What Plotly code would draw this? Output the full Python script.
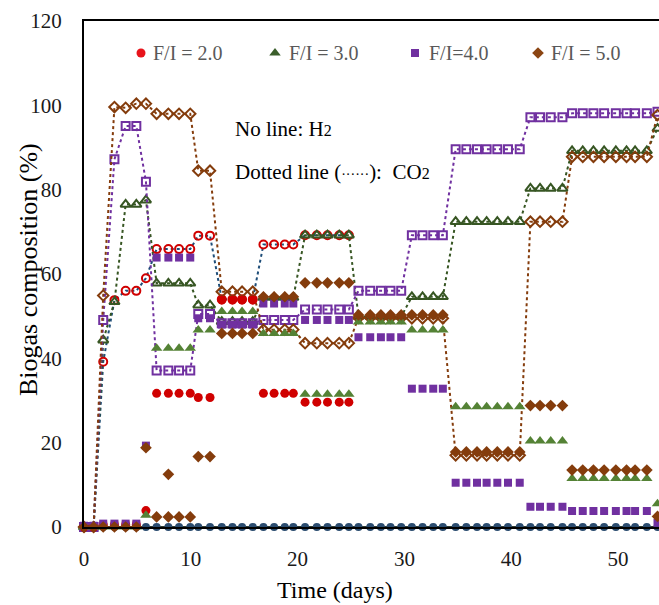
import plotly.graph_objects as go

N = None
# sampling days (x values)
DAYS = [0, 0.9, 1.8, 2.85, 3.9, 4.9, 5.8,
        6.8, 7.9, 8.9, 9.95,
        10.7, 11.8,
        12.9, 13.9, 14.8, 15.8,
        16.8, 17.8, 18.8, 19.6,
        20.7, 21.8, 22.8, 23.9, 24.8,
        25.7, 26.8, 27.8, 28.7, 29.7,
        30.7, 31.7, 32.7, 33.6,
        34.8, 35.8, 36.8, 37.7, 38.7, 39.7, 40.8,
        41.8, 42.7, 43.7, 44.8,
        45.7, 46.7, 47.7, 48.7, 49.8, 50.8, 51.6, 52.7,
        53.7]

FI2_CO2 = [0, 0, 39.2, 53.8, 56.0, 56.0, 59.0,
           65.9, 65.9, 65.9, 65.9,
           69.1, 69.1,
           54.0, 54.0, 54.0, 54.0,
           67.0, 67.0, 67.0, 67.0,
           69.2, 69.2, 69.2, 69.2, 69.2,
           N, N, N, N, N,
           N, N, N, N,
           N, N, N, N, N, N, N,
           N, N, N, N,
           N, N, N, N, N, N, N, N,
           N]
FI2_H2 = [0, 0, 0.6, 0.6, 0.6, 0.6, 3.9,
          31.7, 31.7, 31.7, 31.7,
          30.7, 30.7,
          53.8, 53.8, 53.8, 53.8,
          31.7, 31.7, 31.7, 31.7,
          29.6, 29.6, 29.6, 29.6, 29.6,
          N, N, N, N, N,
          N, N, N, N,
          N, N, N, N, N, N, N,
          N, N, N, N,
          N, N, N, N, N, N, N, N,
          N]
FI3_CO2 = [0, 0, 44.3, 53.4, 76.5, 76.5, 77.5,
           57.8, 57.8, 57.8, 57.8,
           52.6, 52.6,
           48.7, 48.7, 48.7, 48.7,
           54.4, 54.4, 54.4, 54.4,
           69.2, 69.2, 69.2, 69.2, 69.2,
           49.9, 49.9, 49.9, 49.9, 49.9,
           54.6, 54.6, 54.6, 54.6,
           72.4, 72.4, 72.4, 72.4, 72.4, 72.4, 72.4,
           80.3, 80.3, 80.3, 80.3,
           89.2, 89.2, 89.2, 89.2, 89.2, 89.2, 89.2, 89.2,
           94.5]
FI3_H2 = [0, 0, 0, 0, 0, 0, 2.8,
          42.4, 42.4, 42.4, 42.4,
          46.7, 46.7,
          51.1, 51.1, 51.1, 51.1,
          45.9, 45.9, 45.9, 45.9,
          31.5, 31.5, 31.5, 31.5, 31.5,
          48.6, 48.6, 48.6, 48.6, 48.6,
          46.7, 46.7, 46.7, 46.7,
          28.5, 28.5, 28.5, 28.5, 28.5, 28.5, 28.5,
          20.4, 20.4, 20.4, 20.4,
          11.5, 11.5, 11.5, 11.5, 11.5, 11.5, 11.5, 11.5,
          5.5]
FI4_CO2 = [0, 0, 49.1, 87.2, 95.1, 95.1, 81.9,
           37.1, 37.1, 37.1, 37.1,
           50.5, 50.5,
           48.3, 48.3, 48.3, 48.3,
           49.1, 49.1, 49.1, 49.1,
           51.6, 51.6, 51.6, 51.6, 51.6,
           56.0, 56.0, 56.0, 56.0, 56.0,
           69.2, 69.2, 69.2, 69.2,
           89.6, 89.6, 89.6, 89.6, 89.6, 89.6, 89.6,
           97.2, 97.2, 97.2, 97.2,
           98.1, 98.1, 98.1, 98.1, 98.1, 98.1, 98.1, 98.1,
           98.5]
FI4_H2 = [0.3, 0.3, 0.8, 0.8, 0.8, 0.8, 19.3,
          63.9, 63.9, 63.9, 63.9,
          49.5, 49.5,
          48.0, 48.0, 48.0, 48.0,
          53.0, 53.0, 53.0, 53.0,
          49.1, 49.1, 49.1, 49.1, 49.1,
          45.0, 45.0, 45.0, 45.0, 45.0,
          32.8, 32.8, 32.8, 32.8,
          10.5, 10.5, 10.5, 10.5, 10.5, 10.5, 10.5,
          4.8, 4.8, 4.8, 4.8,
          3.8, 3.8, 3.8, 3.8, 3.8, 3.8, 3.8, 3.8,
          1.0]
FI5_CO2 = [0, 0, 54.9, 99.6, 99.4, 100.4, 100.4,
           98.0, 98.0, 98.0, 98.0,
           84.5, 84.5,
           55.8, 55.8, 55.8, 55.8,
           46.8, 46.8, 46.8, 46.8,
           43.6, 43.6, 43.6, 43.6, 43.6,
           49.6, 49.6, 49.6, 49.6, 49.6,
           49.5, 49.5, 49.5, 49.5,
           17.0, 17.0, 17.0, 17.0, 17.0, 17.0, 17.0,
           72.4, 72.4, 72.4, 72.4,
           87.8, 87.8, 87.8, 87.8, 87.8, 87.8, 87.8, 87.8,
           97.7]
FI5_H2 = [0, 0, 0, 0, 0, 0, 18.8,
          2.4, 2.4, 2.4, 2.4,
          16.7, 16.7,
          45.9, 45.9, 45.9, 45.9,
          54.6, 54.6, 54.6, 54.6,
          57.9, 57.9, 57.9, 57.9, 57.9,
          50.3, 50.3, 50.3, 50.3, 50.3,
          50.3, 50.3, 50.3, 50.3,
          17.8, 17.8, 17.8, 17.8, 17.8, 17.8, 17.8,
          28.8, 28.8, 28.8, 28.8,
          13.5, 13.5, 13.5, 13.5, 13.5, 13.5, 13.5, 13.5,
          2.5]
FI5_H2_EXTRA_DAY = [7.9]
FI5_H2_EXTRA_VAL = [12.5]
BASE_ZERO = [0, 0, 0, 0, 0, 0, 0, 0, 0, 0, 0, 0, 0, 0, 0, 0, 0, 0, 0, 0,
             0, 0, 0, 0, 0, 0, 0, 0, 0, 0, 0, 0, 0, 0, 0, 0, 0, 0, 0, 0,
             0, 0, 0, 0, 0, 0, 0, 0, 0, 0, 0, 0, 0, 0, 0]

LEGEND_LABELS = ["F/I = 2.0", "F/I = 3.0", "F/I=4.0", "F/I = 5.0"]
Y_TICKS = [0, 20, 40, 60, 80, 100, 120]
X_TICKS = [0, 10, 20, 30, 40, 50]

RED = "#D00000"
GREEN_F = "#548235"
GREEN_O = "#375623"
PURPLE = "#7030A0"
BROWN = "#843C0C"
NAVY = "#1F4E79"
FONT = "Times New Roman, Liberation Serif, DejaVu Serif, serif"

W, H = 659, 605
ML, MR, MT, MB = 84, 0, 21, 78
PW, PH = W - ML - MR, H - MT - MB


def px(x):
    return (x - ML) / PW


def py(y):
    return (H - MB - y) / PH


fig = go.Figure()

# zero baseline series
fig.add_trace(go.Scatter(x=DAYS, y=BASE_ZERO, mode="lines+markers",
                         line=dict(color="#2F3B2F", width=2),
                         marker=dict(symbol="circle", size=8, color="#2B4C6F"),
                         cliponaxis=False, showlegend=False))

co2_specs = [
    (FI2_CO2, "circle-open", 8, RED, NAVY),
    (FI3_CO2, "triangle-up-open", 9, GREEN_O, GREEN_O),
    (FI4_CO2, "square-open", 8, PURPLE, PURPLE),
    (FI5_CO2, "diamond-open", 8, BROWN, BROWN),
]
for vals, sym, size, mcol, lcol in co2_specs:
    fig.add_trace(go.Scatter(x=DAYS, y=vals, mode="lines+markers",
                             line=dict(color=lcol, width=2, dash="dot"),
                             marker=dict(symbol=sym, size=size, color=mcol,
                                         line=dict(width=2, color=mcol)),
                             connectgaps=False, cliponaxis=False,
                             showlegend=False))

h2_specs = [
    (DAYS, FI2_H2, "circle", 9, RED),
    (DAYS, FI3_H2, "triangle-up", 10, GREEN_F),
    (DAYS, FI4_H2, "square", 8, PURPLE),
    (DAYS, FI5_H2, "diamond", 9, BROWN),
    (FI5_H2_EXTRA_DAY, FI5_H2_EXTRA_VAL, "diamond", 9, BROWN),
]
for xs, vals, sym, size, col in h2_specs:
    fig.add_trace(go.Scatter(x=xs, y=vals, mode="markers",
                             marker=dict(symbol=sym, size=size, color=col),
                             cliponaxis=False, showlegend=False))

# legend-like key drawn on an overlay axis (fractions of plot area)
key_sym = [("circle", 9, "#E8141B"), ("triangle-up", 10, "#3B5E2B"),
           ("square", 8, PURPLE), ("diamond", 9, "#8B4513")]
key_px = [141, 275, 415, 538]
key_txt_px = [151, 287, 427, 549]
key_y = 53
for (sym, size, col), kx, tx, lab in zip(key_sym, key_px, key_txt_px, LEGEND_LABELS):
    fig.add_trace(go.Scatter(x=[px(kx)], y=[py(key_y)], xaxis="x2", yaxis="y2",
                             mode="markers",
                             marker=dict(symbol=sym, size=size, color=col),
                             cliponaxis=False, showlegend=False, hoverinfo="skip"))
    fig.add_annotation(x=px(tx), y=py(key_y), xref="paper", yref="paper",
                       text=lab, showarrow=False, xanchor="left", yanchor="middle",
                       font=dict(family=FONT, size=20, color="#595959"))

fig.add_annotation(x=px(233), y=py(129), xref="paper", yref="paper",
                   text="No line: H<span style='font-size:16px'>2</span>",
                   showarrow=False, xanchor="left", yanchor="middle",
                   font=dict(family=FONT, size=21, color="#000000"))
fig.add_annotation(x=px(233), y=py(172), xref="paper", yref="paper",
                   text="Dotted line (<span style='font-size:14px'>······</span>):  CO<span style='font-size:16px'>2</span>",
                   showarrow=False, xanchor="left", yanchor="middle",
                   font=dict(family=FONT, size=21, color="#000000"))

# axis titles
fig.add_annotation(x=px(335), y=py(590), xref="paper", yref="paper",
                   text="Time (days)", showarrow=False,
                   xanchor="center", yanchor="middle",
                   font=dict(family=FONT, size=24, color="#000000"))
fig.add_annotation(x=px(28), y=py(270), xref="paper", yref="paper",
                   text="Biogas composition (%)", showarrow=False, textangle=-90,
                   xanchor="center", yanchor="middle",
                   font=dict(family=FONT, size=26, color="#000000"))

fig.update_layout(
    width=W, height=H,
    margin=dict(l=ML, r=MR, t=MT, b=MB, pad=0),
    paper_bgcolor="white", plot_bgcolor="white",
    showlegend=False,
    font=dict(family=FONT),
    xaxis=dict(range=[0, 53.84], tickvals=X_TICKS, showgrid=False, zeroline=False,
               showline=True, linecolor="#000000", linewidth=1.5, mirror=True,
               ticks="", ticklabelstandoff=12,
               tickfont=dict(family=FONT, size=21, color="#1a1a1a")),
    yaxis=dict(range=[0, 120], tickvals=Y_TICKS, showgrid=False, zeroline=False,
               showline=True, linecolor="#000000", linewidth=2,
               ticks="", ticklabelstandoff=16,
               tickfont=dict(family=FONT, size=21, color="#1a1a1a")),
    xaxis2=dict(range=[0, 1], overlaying="x", visible=False),
    yaxis2=dict(range=[0, 1], overlaying="y", visible=False),
)

fig.write_html("out.html")
